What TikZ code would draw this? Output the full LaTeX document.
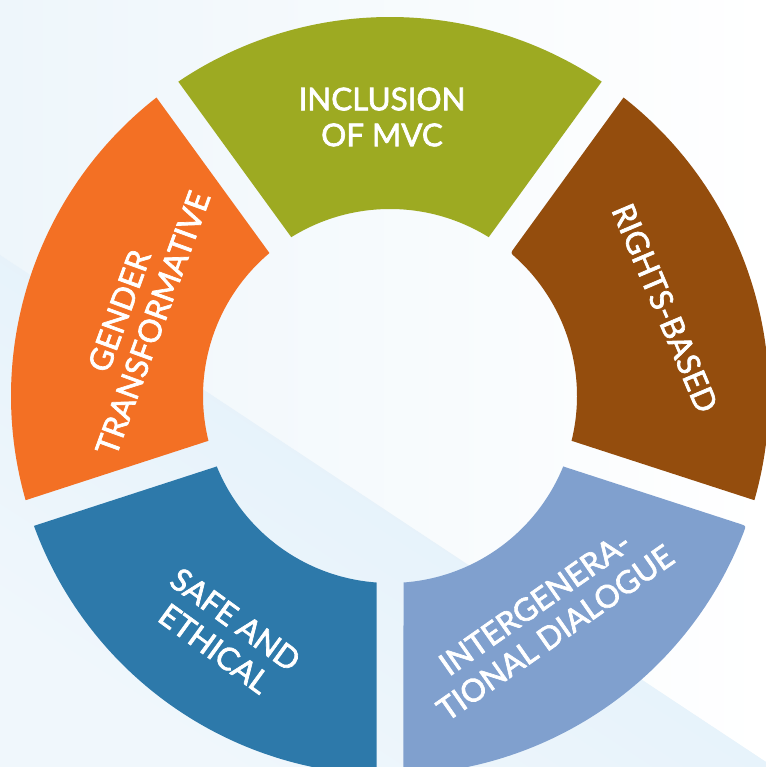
\documentclass[tikz,border=0pt]{standalone}
\usepackage{fontspec}
\setmainfont{Lato}
\newfontfamily\lblfont{Lato}[FakeBold=2.2]
\definecolor{segOlive}{RGB}{157,170,34}
\definecolor{segOrange}{RGB}{243,112,36}
\definecolor{segBrown}{RGB}{148,77,13}
\definecolor{segBlue}{RGB}{45,121,170}
\definecolor{segLight}{RGB}{128,160,206}
\definecolor{bgBase}{RGB}{238,246,252}
\definecolor{bgTL}{RGB}{238,246,251}
\definecolor{bgLine}{RGB}{222,238,249}
\definecolor{bgLow}{RGB}{240,247,252}
\begin{document}
\begin{tikzpicture}[x=1bp,y=1bp,
  lbl/.style={text=white, align=center, font=\lblfont\fontsize{31.5}{36}\selectfont, inner sep=0pt}]
\useasboundingbox (0,0) rectangle (766,767);
\clip (0,0) rectangle (766,767);
% background
\fill[bgBase] (0,0) rectangle (766,767);
\shade[left color=bgTL, right color=white] (0,767) -- (0,512) -- (766,5) -- (766,767) -- cycle;
\shade[top color=bgLine, bottom color=bgLow, shading angle=-33] (0,512) -- (766,5) -- (766,0) -- (0,0) -- cycle;
% ring
\begin{scope}[shift={(390,371)}]
\fill[segOlive] (56.04:379) arc[start angle=56.04, end angle=123.96, radius=379]
  -- (121.86:187) arc[start angle=121.86, end angle=58.14, radius=187] -- cycle;
\fill[segOrange] (128.04:379) arc[start angle=128.04, end angle=195.96, radius=379]
  -- (193.86:187) arc[start angle=193.86, end angle=130.14, radius=187] -- cycle;
\fill[segBlue] (200.04:379) arc[start angle=200.04, end angle=267.96, radius=379]
  -- (265.86:187) arc[start angle=265.86, end angle=202.14, radius=187] -- cycle;
\fill[segLight] (272.04:379) arc[start angle=272.04, end angle=339.05, radius=379]
  .. controls (339.96:379) .. (350.34,-128.01)
  -- (337.86:187) arc[start angle=337.86, end angle=274.14, radius=187] -- cycle;
\fill[segBrown] (-15.96:379) arc[start angle=-15.96, end angle=51.96, radius=379]
  -- (124.07,147.81) .. controls (49.86:187) .. (48.02:187)
  arc[start angle=48.02, end angle=-13.86, radius=187] -- cycle;
\end{scope}
% labels
\node[lbl] (incl) at (382,650) {INCLUSION\\OF MVC};
\node[lbl, rotate=-67] (rights) at (665,459) {RIGHTS-BASED};
\node[lbl, rotate=70] (gender) at (136,450) {GENDER\\TRANSFORMATIVE};
\node[lbl, rotate=-36] (safe) at (225,133) {SAFE AND\\ETHICAL};
\node[lbl, rotate=35] (inter) at (545,149) {INTERGENERA-\\TIONAL DIALOGUE};
\end{tikzpicture}
\end{document}
